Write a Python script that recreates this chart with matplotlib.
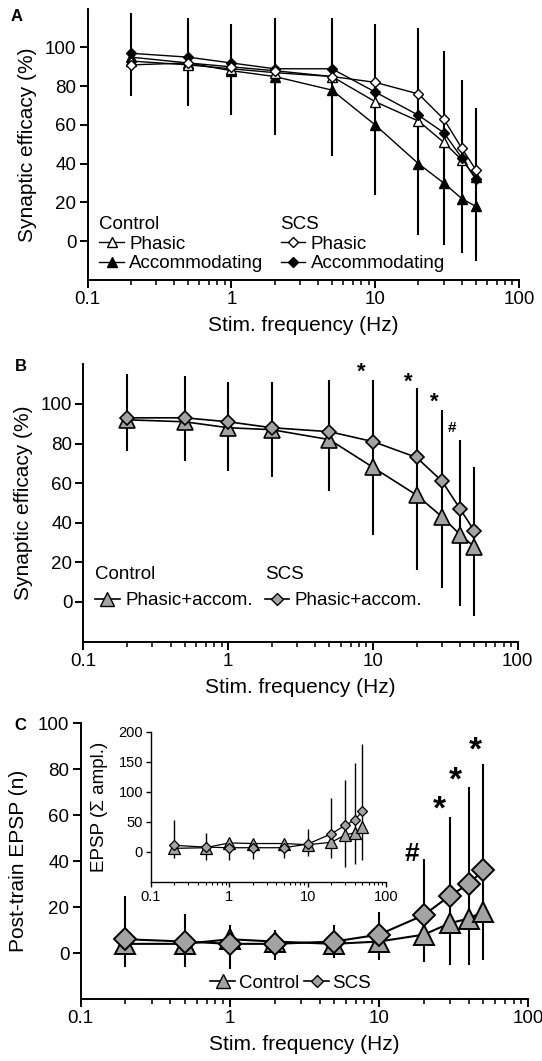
import matplotlib
matplotlib.use('Agg')
import matplotlib.pyplot as plt
from matplotlib import ticker
from matplotlib.lines import Line2D

plt.rcParams['font.family'] = ['Liberation Sans', 'DejaVu Sans']

# stimulation frequencies (Hz)
freq = [0.2, 0.5, 1, 2, 5, 10, 20, 30, 40, 50]

# panel A: synaptic efficacy (%)
a_ctrl_phasic = [93, 91, 89, 87, 85, 72, 62, 51, 42, 33]
a_ctrl_accom = [95, 92, 88, 85, 78, 60, 40, 30, 22, 18]
a_scs_phasic = [91, 92, 90, 88, 85, 82, 76, 63, 48, 37]
a_scs_accom = [97, 95, 92, 89, 89, 77, 65, 56, 43, 32]
a_err_lo = [75, 70, 65, 55, 44, 24, 3, -2, -6, -10]
a_err_hi = [118, 115, 112, 115, 115, 112, 110, 98, 83, 69]

# panel B: phasic + accommodating pooled
b_ctrl = [92, 91, 88, 87, 82, 68, 54, 43, 34, 28]
b_scs = [93, 93, 91, 88, 86, 81, 73, 61, 47, 36]
b_err_lo = [76, 71, 66, 63, 56, 34, 16, 7, -2, -7]
b_err_hi = [115, 114, 111, 111, 112, 112, 108, 97, 82, 68]
b_marks = ['*', '*', '*', '#']
b_mark_x = [8.3, 17.5, 26.5, 35]
b_mark_y = [116, 111, 101, 88]

# panel C: post-train EPSP count
c_ctrl = [4, 4, 6, 5, 4, 5, 8, 13, 15, 18]
c_scs = [6, 5, 4, 4, 5, 8, 16.5, 25, 30, 36]
c_err_lo = [-6, -6, -7, -3, -2, -3, -4, -5, -5, -3]
c_err_hi = [25, 17, 12, 10, 12, 18, 41, 59, 72, 82]
c_marks = ['#', '*', '*', '*']
c_mark_x = [16.7, 25.4, 32.7, 44.6]
c_mark_y = [43, 62, 75, 88]

# panel C inset: summed EPSP amplitude
i_ctrl = [6, 7, 15, 14, 14, 12, 16, 28, 32, 41]
i_scs = [11, 8, 7, 7, 7, 13, 30, 44, 53, 68]
i_err_lo = [-10, -13, -13, -11, -10, -7, -10, -25, -20, -14]
i_err_hi = [53, 32, 18, 16, 20, 38, 89, 120, 148, 179]

grey = '#a3a3a3'
fig = plt.figure(figsize=(5.42, 10.61), dpi=100)


def style_axis(ax, ylim, yticks, tick_size=13.5, lw=1.4):
    ax.set_xscale('log')
    ax.set_xlim(0.1, 100)
    ax.set_ylim(*ylim)
    ax.set_yticks(yticks)
    ax.xaxis.set_major_locator(ticker.FixedLocator([0.1, 1, 10, 100]))
    ax.xaxis.set_major_formatter(ticker.FuncFormatter(lambda v, p: f'{v:g}'))
    ax.xaxis.set_minor_locator(ticker.LogLocator(subs=range(2, 10)))
    ax.xaxis.set_minor_formatter(ticker.NullFormatter())
    for s in ['top', 'right']:
        ax.spines[s].set_visible(False)
    for s in ['left', 'bottom']:
        ax.spines[s].set_linewidth(lw)
    ax.tick_params(which='major', length=6, width=lw, labelsize=tick_size, pad=2)
    ax.tick_params(which='minor', length=3.5, width=lw * 0.8)
    ax.set_facecolor('none')


# ---- A ----
axA = fig.add_axes([0.1616, 0.7361, 0.796, 0.2557])
style_axis(axA, (-20, 120), range(0, 101, 20))
axA.vlines(freq, a_err_lo, a_err_hi, color='k', lw=1.5, zorder=1)
axA.plot(freq, a_ctrl_accom, '-^', color='k', mfc='k', mec='k', ms=7, lw=1, zorder=3)
axA.plot(freq, a_ctrl_phasic, '-^', color='k', mfc='white', mec='k', ms=7, mew=1, lw=1, zorder=3)
axA.plot(freq, a_scs_accom, '-D', color='k', mfc='k', mec='k', ms=4.8, lw=1, zorder=4)
axA.plot(freq, a_scs_phasic, '-D', color='k', mfc='white', mec='k', ms=4.8, mew=1, lw=1, zorder=4)
axA.set_xlabel('Stim. frequency (Hz)', fontsize=15, labelpad=6)
axA.set_ylabel('Synaptic efficacy (%)', fontsize=15)
axA.yaxis.set_label_coords(-0.117, 0.5)

hA1 = [Line2D([], [], color='k', marker='^', mfc='white', ms=7, lw=1),
       Line2D([], [], color='k', marker='^', mfc='k', ms=7, lw=1)]
hA2 = [Line2D([], [], color='k', marker='D', mfc='white', ms=4.8, lw=1),
       Line2D([], [], color='k', marker='D', mfc='k', ms=4.8, lw=1)]
legA1 = axA.legend(hA1, ['Phasic', 'Accommodating'], title='Control', loc='lower left',
                   bbox_to_anchor=(0.01, 0.0), frameon=False, fontsize=13.5, title_fontsize=13.5,
                   handlelength=1.3, handletextpad=0.3, labelspacing=0.15, alignment='left',
                   borderpad=0.2, borderaxespad=0.2)
axA.add_artist(legA1)
axA.legend(hA2, ['Phasic', 'Accommodating'], title='SCS', loc='lower left',
           bbox_to_anchor=(0.43, 0.0), frameon=False, fontsize=13.5, title_fontsize=13.5,
           handlelength=1.3, handletextpad=0.3, labelspacing=0.15, alignment='left',
           borderpad=0.2, borderaxespad=0.2)
fig.text(0.03, 0.984, 'A', fontsize=12, fontweight='bold', va='center', ha='center')

# ---- B ----
axB = fig.add_axes([0.1539, 0.3953, 0.8013, 0.2613])
style_axis(axB, (-20, 120), range(0, 101, 20))
axB.vlines(freq, b_err_lo, b_err_hi, color='k', lw=1.5, zorder=1)
axB.plot(freq, b_ctrl, '-^', color='k', mfc=grey, mec='k', ms=11, mew=1.2, lw=1.2, zorder=3)
axB.plot(freq, b_scs, '-D', color='k', mfc=grey, mec='k', ms=7, mew=1.2, lw=1.2, zorder=4)
for m, x, y in zip(b_marks, b_mark_x, b_mark_y):
    axB.text(x, y, m, fontsize=16 if m == '*' else 11, fontweight='bold', ha='center', va='center')
axB.set_xlabel('Stim. frequency (Hz)', fontsize=15, labelpad=6)
axB.set_ylabel('Synaptic efficacy (%)', fontsize=15)
axB.yaxis.set_label_coords(-0.117, 0.5)
hB1 = [Line2D([], [], color='k', marker='^', mfc=grey, ms=10, lw=1.2)]
hB2 = [Line2D([], [], color='k', marker='D', mfc=grey, ms=6.5, lw=1.2)]
legB1 = axB.legend(hB1, ['Phasic+accom.'], title='Control', loc='lower left',
                   bbox_to_anchor=(0.01, 0.09), frameon=False, fontsize=13.5, title_fontsize=13.5,
                   handlelength=1.3, handletextpad=0.3, alignment='left',
                   borderpad=0.2, borderaxespad=0.2)
axB.add_artist(legB1)
axB.legend(hB2, ['Phasic+accom.'], title='SCS', loc='lower left',
           bbox_to_anchor=(0.40, 0.09), frameon=False, fontsize=13.5, title_fontsize=13.5,
           handlelength=1.3, handletextpad=0.3, alignment='left',
           borderpad=0.2, borderaxespad=0.2)
fig.text(0.038, 0.655, 'B', fontsize=12, fontweight='bold', va='center', ha='center')

# ---- C ----
axC = fig.add_axes([0.1487, 0.0584, 0.8255, 0.2601])
style_axis(axC, (-20, 100), range(0, 101, 20))
axC.vlines(freq, c_err_lo, c_err_hi, color='k', lw=1.5, zorder=1)
axC.plot(freq, c_ctrl, '-^', color='k', mfc=grey, mec='k', ms=15, mew=1.4, lw=1.5, zorder=3)
axC.plot(freq, c_scs, '-D', color='k', mfc=grey, mec='k', ms=11, mew=1.4, lw=1.5, zorder=4)
for m, x, y in zip(c_marks, c_mark_x, c_mark_y):
    axC.text(x, y, m, fontsize=24 if m == '*' else 19, fontweight='bold', ha='center', va='center')
axC.set_xlabel('Stim. frequency (Hz)', fontsize=15, labelpad=6)
axC.set_ylabel('Post-train EPSP (n)', fontsize=15)
axC.yaxis.set_label_coords(-0.118, 0.5)
hC = [Line2D([], [], color='k', marker='^', mfc=grey, ms=10, lw=1.2),
      Line2D([], [], color='k', marker='D', mfc=grey, ms=6.5, lw=1.2)]
axC.legend(hC, ['Control', 'SCS'], loc='lower center', bbox_to_anchor=(0.47, 0.0), ncol=2,
           frameon=False, fontsize=13.5, handlelength=1.3, handletextpad=0.2, columnspacing=0.3,
           borderpad=0.2, borderaxespad=0.2)
fig.text(0.038, 0.316, 'C', fontsize=12, fontweight='bold', va='center', ha='center')

# ---- C inset ----
axI = fig.add_axes([0.278, 0.1687, 0.4342, 0.1417])
style_axis(axI, (-50, 200), range(0, 201, 50), tick_size=10.5, lw=1.0)
axI.tick_params(which='major', length=3.5)
axI.tick_params(which='minor', length=2.2)
axI.vlines(freq, i_err_lo, i_err_hi, color='k', lw=1.0, zorder=1)
axI.plot(freq, i_ctrl, '-^', color='k', mfc=grey, mec='k', ms=9, mew=0.9, lw=0.9, zorder=3)
axI.plot(freq, i_scs, '-D', color='k', mfc=grey, mec='k', ms=5.6, mew=0.9, lw=0.9, zorder=4)
axI.set_ylabel('EPSP (\u03a3 ampl.)', fontsize=13.5)
axI.yaxis.set_label_coords(-0.18, 0.5)

fig.savefig('out.png', dpi=100)
